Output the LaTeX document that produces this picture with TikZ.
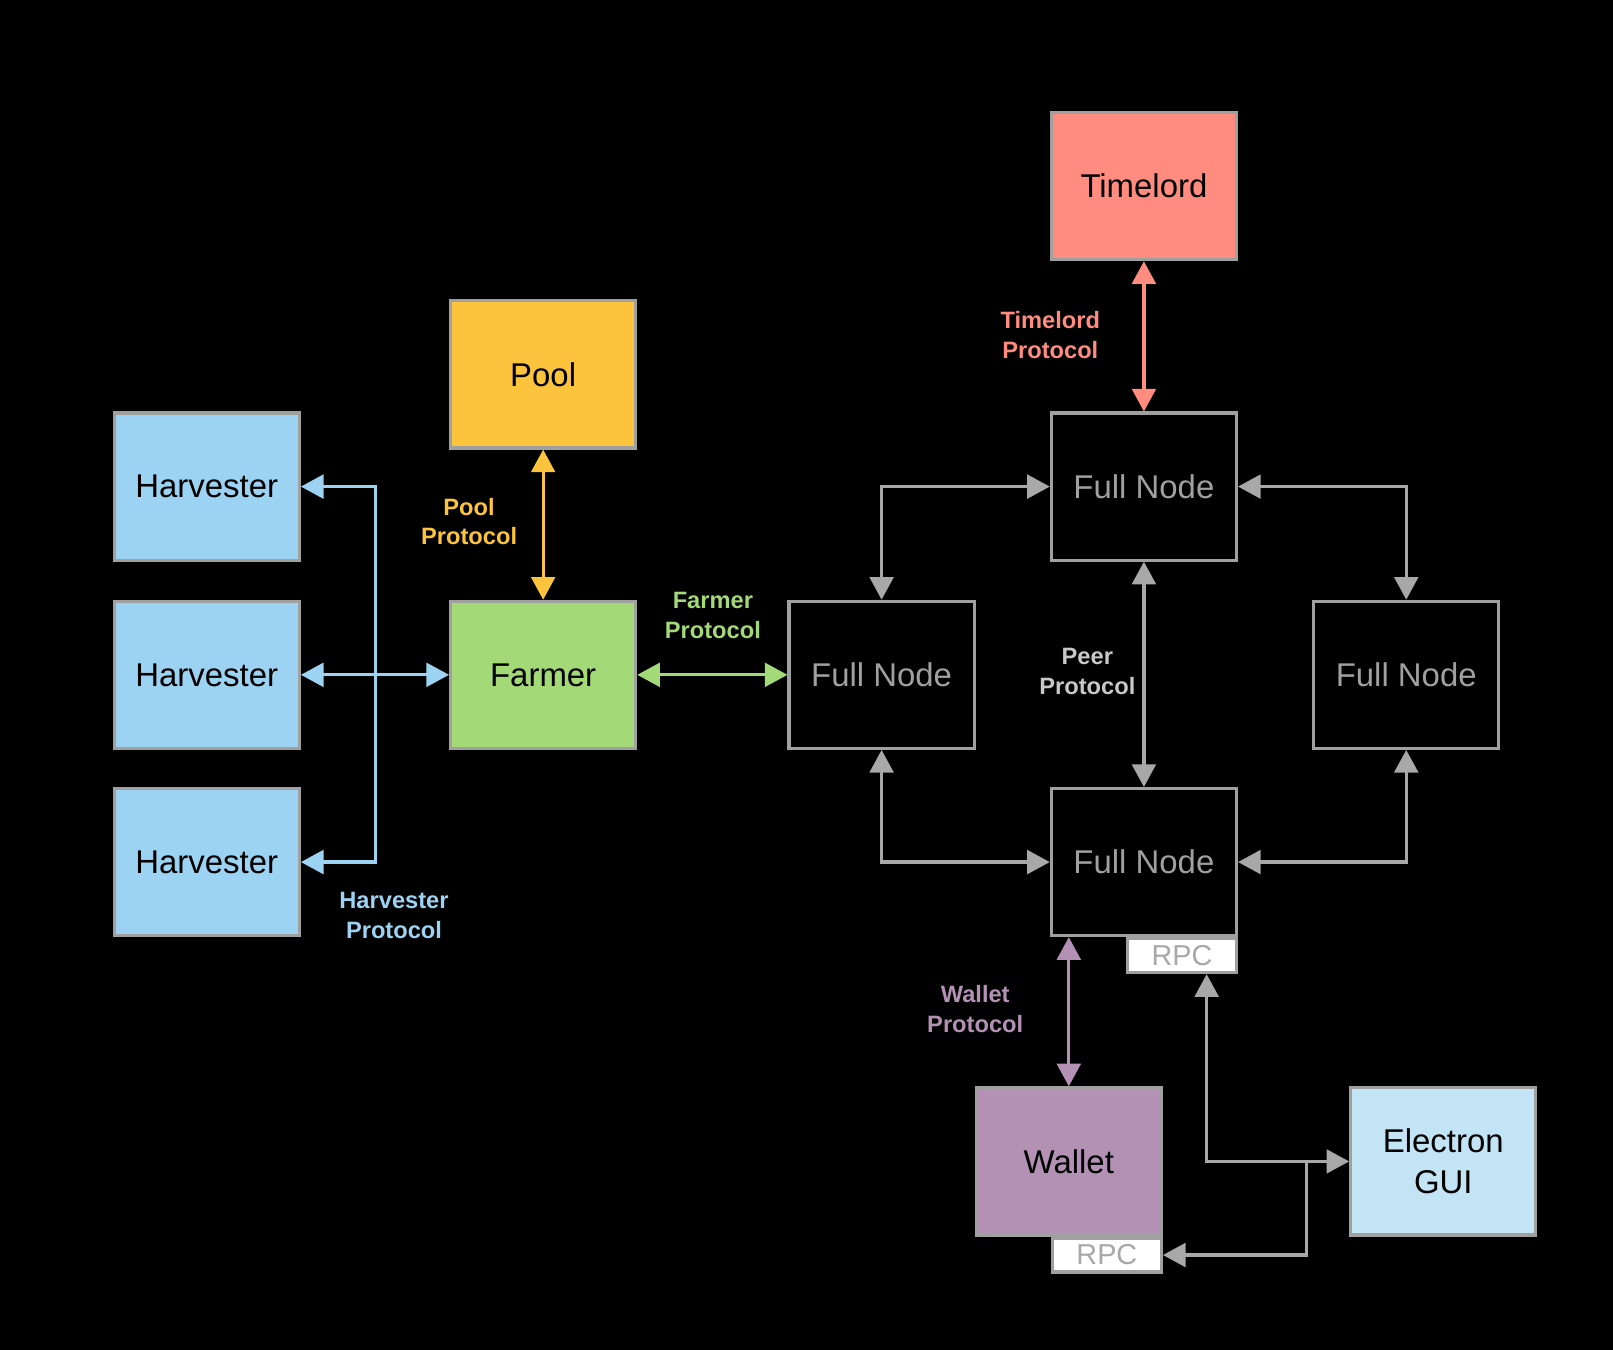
\documentclass[tikz,border=0pt]{standalone}
\usepackage{fontspec}
\setmainfont{Liberation Sans}
\usetikzlibrary{arrows.meta}
\definecolor{harvblue}{HTML}{9CD3F2}
\definecolor{poolyellow}{HTML}{FCC43D}
\definecolor{farmgreen}{HTML}{A4D977}
\definecolor{timered}{HTML}{FF8C7F}
\definecolor{walletpurple}{HTML}{B391B5}
\definecolor{guiblue}{HTML}{C3E4F5}
\definecolor{boxgray}{HTML}{A0A0A0}
\definecolor{peergray}{HTML}{A8A8A8}
\definecolor{peertext}{HTML}{C8C8C8}

\begin{document}
\begin{tikzpicture}[x=1pt,y=-1pt]
	\tikzset{>={Triangle[length=22pt,width=23pt]},
		box/.style={draw=boxgray, line width=3pt, minimum width=180pt, minimum height=143pt,
			inner sep=0pt, align=center, font=\fontsize{32}{40}\selectfont},
		rpcbox/.style={draw=boxgray, fill=white, line width=3pt, minimum width=106pt, minimum height=33pt,
			inner sep=0pt, text=peergray, font=\fontsize{28}{28}\selectfont},
		proto/.style={align=center, font=\fontsize{23}{29}\selectfont\bfseries},
		link/.style={line width=3.2pt, <->}}
	\fill[black] (0,0) rectangle (1568,1312);

	% farming side
	\node[box, fill=harvblue] (h1) at (201,473) {Harvester};
	\node[box, fill=harvblue] (h2) at (201,656) {Harvester};
	\node[box, fill=harvblue] (h3) at (201,838) {Harvester};
	\node[box, fill=poolyellow] (pool) at (528,364) {Pool};
	\node[box, fill=farmgreen] (farmer) at (528,656) {Farmer};

	% full nodes
	\node[box, fill=black, text=boxgray] (fnl) at (857,656) {Full Node};
	\node[box, fill=black, text=boxgray] (fnt) at (1112,473) {Full Node};
	\node[box, fill=black, text=boxgray] (fnr) at (1367,656) {Full Node};
	\node[box, fill=black, text=boxgray] (fnb) at (1112,838) {Full Node};
	\node[box, fill=timered] (timelord) at (1112,181) {Timelord};
	\node[rpcbox, anchor=north east] (rpcfn) at (fnb.south east) {RPC};

	% wallet and gui
	\node[box, fill=walletpurple] (wallet) at (1039,1129) {Wallet};
	\node[rpcbox, anchor=north east] (rpcw) at (wallet.south east) {RPC};
	\node[box, fill=guiblue] (gui) at (1403,1129) {Electron\\GUI};
	\coordinate (hbus) at (365,656);
	\coordinate (guijoin) at (1270,1129);

	\draw[link, harvblue] (h1.east) -| (hbus) |- (h3.east);
	\draw[link, harvblue] (h2.east) -- (farmer.west);
	\draw[link, poolyellow] (pool.south) -- (farmer.north);
	\draw[link, farmgreen] (farmer.east) -- (fnl.west);
	\draw[link, timered] (timelord.south) -- (fnt.north);
	\draw[link, peergray] (fnt.south) -- (fnb.north);
	\draw[link, peergray] (fnl.north) |- (fnt.west);
	\draw[link, peergray] (fnt.east) -| (fnr.north);
	\draw[link, peergray] (fnl.south) |- (fnb.west);
	\draw[link, peergray] (fnr.south) |- (fnb.east);
	\draw[link, walletpurple] (wallet.north |- fnb.south) -- (wallet.north);
	\draw[link, peergray] ([xshift=24pt]rpcfn.south) |- (gui.west);
	\draw[line width=3.2pt, peergray, ->] (guijoin) |- (rpcw.east);

	% protocol labels
	\node[proto, text=harvblue] (lharv) at (383,890) {Harvester\\Protocol};
	\node[proto, text=poolyellow] (lpool) at (456,507) {Pool\\Protocol};
	\node[proto, text=farmgreen] (lfarm) at (693,598) {Farmer\\Protocol};
	\node[proto, text=timered] (ltime) at (1021,326) {Timelord\\Protocol};
	\node[proto, text=peertext] (lpeer) at (1057,653) {Peer\\Protocol};
	\node[proto, text=walletpurple] (lwallet) at (948,981) {Wallet\\Protocol};
\end{tikzpicture}
\end{document}
